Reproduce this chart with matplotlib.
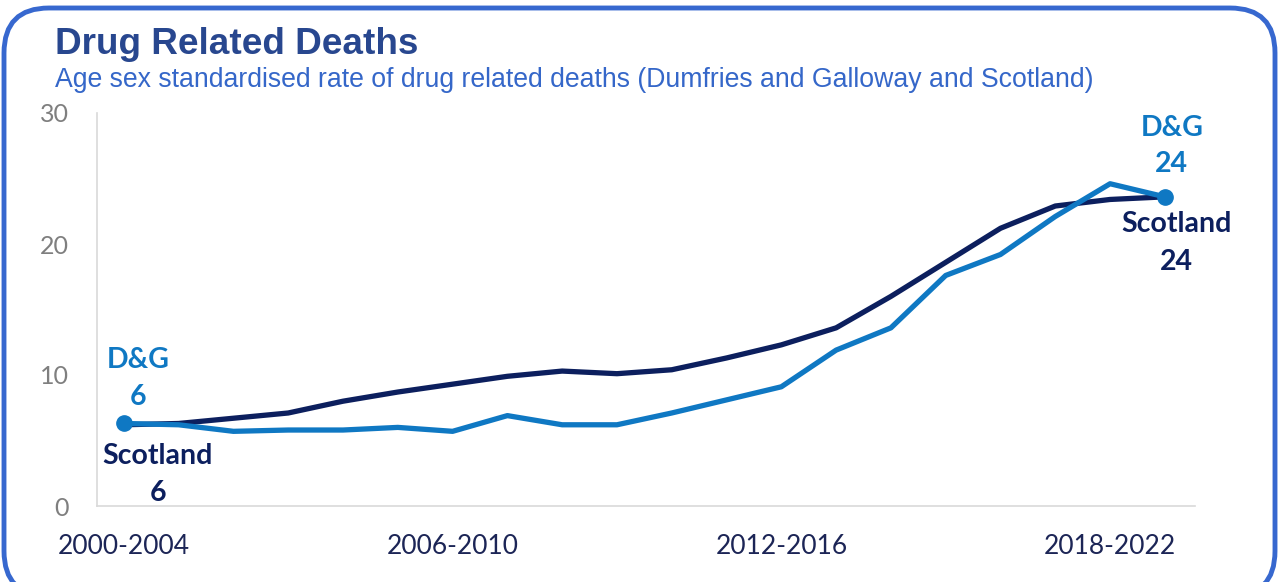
import matplotlib
matplotlib.use('Agg')
import matplotlib.pyplot as plt
from matplotlib.patches import FancyBboxPatch

periods = ['2000-2004', '2001-2005', '2002-2006', '2003-2007', '2004-2008', '2005-2009',
           '2006-2010', '2007-2011', '2008-2012', '2009-2013', '2010-2014', '2011-2015',
           '2012-2016', '2013-2017', '2014-2018', '2015-2019', '2016-2020', '2017-2021',
           '2018-2022', '2019-2023']
scotland = [6.2, 6.3, 6.7, 7.1, 8.0, 8.7, 9.3, 9.9, 10.3, 10.1, 10.4, 11.3,
            12.3, 13.6, 16.0, 18.6, 21.2, 22.9, 23.4, 23.6]
dg = [6.3, 6.2, 5.7, 5.8, 5.8, 6.0, 5.7, 6.9, 6.2, 6.2, 7.1, 8.1,
      9.1, 11.9, 13.6, 17.6, 19.2, 22.1, 24.6, 23.6]
shown_ticks = ['2000-2004', '2006-2010', '2012-2016', '2018-2022']

navy = '#0c1f5e'
blue = '#0f78c3'

fig = plt.figure(figsize=(12.79, 5.82), dpi=100)

# background layer in pixel units for the rounded frame and the titles
bg = fig.add_axes([0, 0, 1, 1])
bg.set_xlim(0, 1279)
bg.set_ylim(582, 0)
bg.axis('off')
frame = FancyBboxPatch((4, 8), 1271, 588, boxstyle='round,pad=0,rounding_size=45',
                       facecolor='white', edgecolor='#3768cf', linewidth=3.5)
bg.add_patch(frame)
bg.text(55, 45, 'Drug Related Deaths', fontsize=26.6, fontweight='bold',
        color='#28478f', family='Liberation Sans', va='center', ha='left')
bg.text(55, 80, 'Age sex standardised rate of drug related deaths (Dumfries and Galloway and Scotland)',
        fontsize=19.2, color='#3567c9', family='Liberation Sans', va='center', ha='left')

ax = fig.add_axes([97 / 1279, 76 / 582, 1098 / 1279, 393 / 582])
x = list(range(len(periods)))
ax.plot(x, scotland, color=navy, linewidth=3.8, solid_joinstyle='round', zorder=3)
ax.plot(x, dg, color=blue, linewidth=3.8, solid_joinstyle='round', zorder=4)
ax.plot([x[0], x[-1]], [dg[0], dg[-1]], 'o', color=blue, markersize=11, zorder=5)

ax.set_xlim(-0.49, 19.55)
ax.set_ylim(0, 30)
ax.set_yticks([0, 10, 20, 30])
ax.set_xticks([periods.index(p) for p in shown_ticks])
ax.set_xticklabels(shown_ticks)
ax.tick_params(axis='both', length=0)
ax.tick_params(axis='y', pad=20, labelsize=18, labelcolor='#7f7f7f')
ax.tick_params(axis='x', pad=20, labelsize=19, labelcolor='#1c2556')
for lab in ax.get_xticklabels() + ax.get_yticklabels():
    lab.set_family('Lato')
for s in ['top', 'right']:
    ax.spines[s].set_visible(False)
for s in ['left', 'bottom']:
    ax.spines[s].set_color('#d9d9d9')
    ax.spines[s].set_linewidth(1.2)

# data labels at the start and end
def lab(xi, yi, txt, dx, dy, col):
    ax.annotate(txt, (xi, yi), xytext=(dx, dy), textcoords='offset pixels',
                ha='center', va='center', fontsize=20.5, fontweight='bold',
                color=col, family='Lato', zorder=6)

lab(x[0], dg[0], 'D&G', 14, 63, blue)
lab(x[0], dg[0], '%d' % round(dg[0]), 14, 26, blue)
lab(x[0], dg[0], 'Scotland', 34, -33, navy)
lab(x[0], dg[0], '%d' % round(scotland[0]), 34, -70, navy)
lab(x[-1], dg[-1], 'D&G', 7, 69, blue)
lab(x[-1], dg[-1], '%d' % round(dg[-1]), 7, 33, blue)
lab(x[-1], dg[-1], 'Scotland', 12, -27, navy)
lab(x[-1], dg[-1], '%d' % round(scotland[-1]), 12, -65, navy)

fig.savefig('out.png', dpi=100)
